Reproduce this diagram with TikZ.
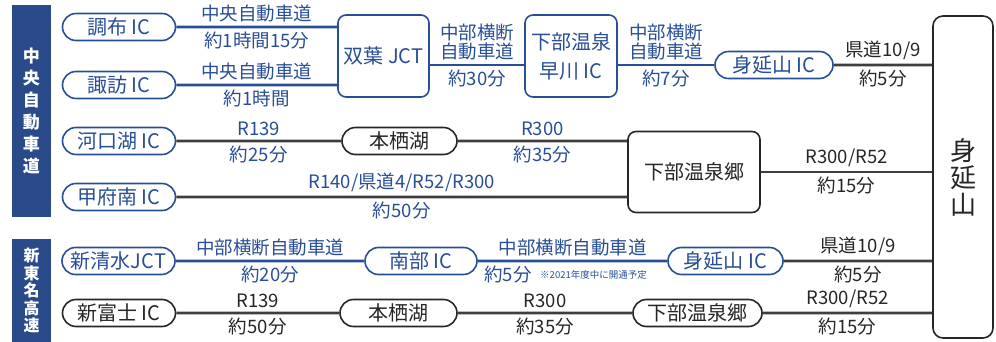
\documentclass[tikz,border=0pt]{standalone}
\usepackage{fontspec}
\setmainfont{Noto Sans CJK JP}
\usetikzlibrary{shapes.misc,positioning}
\definecolor{routeblue}{RGB}{40,78,150}
\definecolor{barblue}{RGB}{43,74,138}
\definecolor{roadgray}{RGB}{62,62,62}
\definecolor{inkblack}{RGB}{38,38,38}

\begin{document}
\begin{tikzpicture}[x=1pt,y=-1pt,
	bluepill/.style={rounded rectangle,draw=routeblue,line width=1.6pt,fill=white,text=routeblue,minimum width=113pt,minimum height=27pt,inner sep=0pt,font=\fontsize{20pt}{22pt}\selectfont},
	graypill/.style={bluepill,draw=inkblack,text=inkblack},
	bluebox/.style={draw=routeblue,line width=1.6pt,rounded corners=8pt,fill=white,text=routeblue,align=center,inner sep=0pt,font=\fontsize{20pt}{29pt}\selectfont},
	graybox/.style={bluebox,draw=inkblack,text=inkblack},
	sidebar/.style={fill=barblue,text=white,minimum width=39pt,inner sep=0pt,align=center},
	blueroad/.style={draw=routeblue,line width=2.6pt},
	grayroad/.style={draw=roadgray,line width=2.6pt},
	bluelbl/.style={text=routeblue,inner sep=0pt,align=center,font=\fontsize{18.5pt}{19pt}\selectfont},
	graylbl/.style={bluelbl,text=inkblack}]
	\useasboundingbox (0,0) rectangle (996,342);

	\node[sidebar,minimum height=212pt,font=\bfseries\fontsize{17pt}{22pt}\selectfont] (chuo) at (31.5,111) {中\\央\\自\\動\\車\\道};
	\node[sidebar,minimum height=103pt,font=\bfseries\fontsize{16pt}{17.5pt}\selectfont] (tomei) at (31.5,290.5) {新\\東\\名\\高\\速};

	\node[bluepill] (chofu) at (119,27) {調布 IC};
	\node[bluepill] (suwa) at (119,85) {諏訪 IC};
	\node[bluebox,minimum width=91pt,minimum height=82pt] (futaba) at (383.5,56) {双葉 JCT};
	\node[bluebox,minimum width=92pt,minimum height=82pt] (hayakawa) at (571,56) {下部温泉\\早川 IC};
	\node[bluepill,minimum width=118pt] (minobuic) at (774,65) {身延山 IC};
	\node[graybox,minimum width=60pt,minimum height=322pt,rounded corners=10pt,font=\fontsize{26pt}{27pt}\selectfont] (minobu) at (963,177) {身\\延\\山};

	\node[bluepill] (kawaguchi) at (119,141) {河口湖 IC};
	\node[graypill,minimum width=115pt] (motosu) at (399.5,141) {本栖湖};
	\node[bluepill] (kofu) at (119,197) {甲府南 IC};
	\node[graybox,minimum width=132pt,minimum height=81pt] (shimobe) at (694,172) {下部温泉郷};

	\node[bluepill] (shimizu) at (118.5,261) {新清水JCT};
	\node[bluepill,minimum width=112pt] (nanbu) at (421,261) {南部 IC};
	\node[bluepill,minimum width=115pt] (minobuictwo) at (725.5,261) {身延山 IC};
	\node[graypill] (fuji) at (119,313) {新富士 IC};
	\node[graypill,minimum width=117pt] (motosutwo) at (398.5,313) {本栖湖};
	\node[graypill,minimum width=129pt] (shimobetwo) at (697.5,313) {下部温泉郷};

	\draw[blueroad] (chofu) -- (chofu -| futaba.west)
		node[midway,bluelbl,above=4pt] {中央自動車道} node[midway,bluelbl,below=4pt] {約1時間15分};
	\draw[blueroad] (suwa) -- (suwa -| futaba.west)
		node[midway,bluelbl,above=4pt] {中央自動車道} node[midway,bluelbl,below=4pt] {約1時間};
	\draw[blueroad] (futaba.east |- minobuic) -- (hayakawa.west |- minobuic)
		node[midway,bluelbl,above=4pt] {中部横断\\自動車道} node[midway,bluelbl,below=4pt] {約30分};
	\draw[blueroad] (hayakawa.east |- minobuic) -- (minobuic)
		node[midway,bluelbl,above=4pt] {中部横断\\自動車道} node[midway,bluelbl,below=4pt] {約7分};
	\draw[grayroad] (minobuic) -- (minobuic -| minobu.west)
		node[midway,graylbl,above=4pt] {県道10/9} node[midway,graylbl,below=4pt] {約5分};

	\draw[grayroad] (kawaguchi) -- (motosu)
		node[midway,bluelbl,above=4pt] {R139} node[midway,bluelbl,below=4pt] {約25分};
	\draw[grayroad] (motosu) -- (motosu -| shimobe.west)
		node[midway,bluelbl,above=4pt] {R300} node[midway,bluelbl,below=4pt] {約35分};
	\draw[grayroad] (kofu) -- (kofu -| shimobe.west)
		node[midway,bluelbl,above=4pt] {R140/県道4/R52/R300} node[midway,bluelbl,below=4pt] {約50分};
	\draw[grayroad] (shimobe) -- (shimobe -| minobu.west)
		node[midway,graylbl,above=4pt] {R300/R52} node[midway,graylbl,below=4pt] {約15分};

	\draw[blueroad] (shimizu) -- (nanbu)
		node[midway,bluelbl,above=4pt] {中部横断自動車道} node[midway,bluelbl,below=4pt] {約20分};
	\draw[blueroad] (nanbu) -- (minobuictwo)
		node[midway,bluelbl,above=4pt] {中部横断自動車道} node[pos=.16,bluelbl,below=4pt] (nanbutime) {約5分};
	\node[bluelbl,right=7pt of nanbutime,font=\fontsize{9.5pt}{11pt}\selectfont] (opening) {※2021年度中に開通予定};
	\draw[grayroad] (minobuictwo) -- (minobuictwo -| minobu.west)
		node[midway,graylbl,above=4pt] {県道10/9} node[midway,graylbl,below=4pt] {約5分};

	\draw[grayroad] (fuji) -- (motosutwo)
		node[midway,graylbl,above=4pt] {R139} node[midway,graylbl,below=4pt] {約50分};
	\draw[grayroad] (motosutwo) -- (shimobetwo)
		node[midway,graylbl,above=4pt] {R300} node[midway,graylbl,below=4pt] {約35分};
	\draw[grayroad] (shimobetwo) -- (shimobetwo -| minobu.west)
		node[midway,graylbl,above=4pt] {R300/R52} node[midway,graylbl,below=4pt] {約15分};
\end{tikzpicture}
\end{document}
